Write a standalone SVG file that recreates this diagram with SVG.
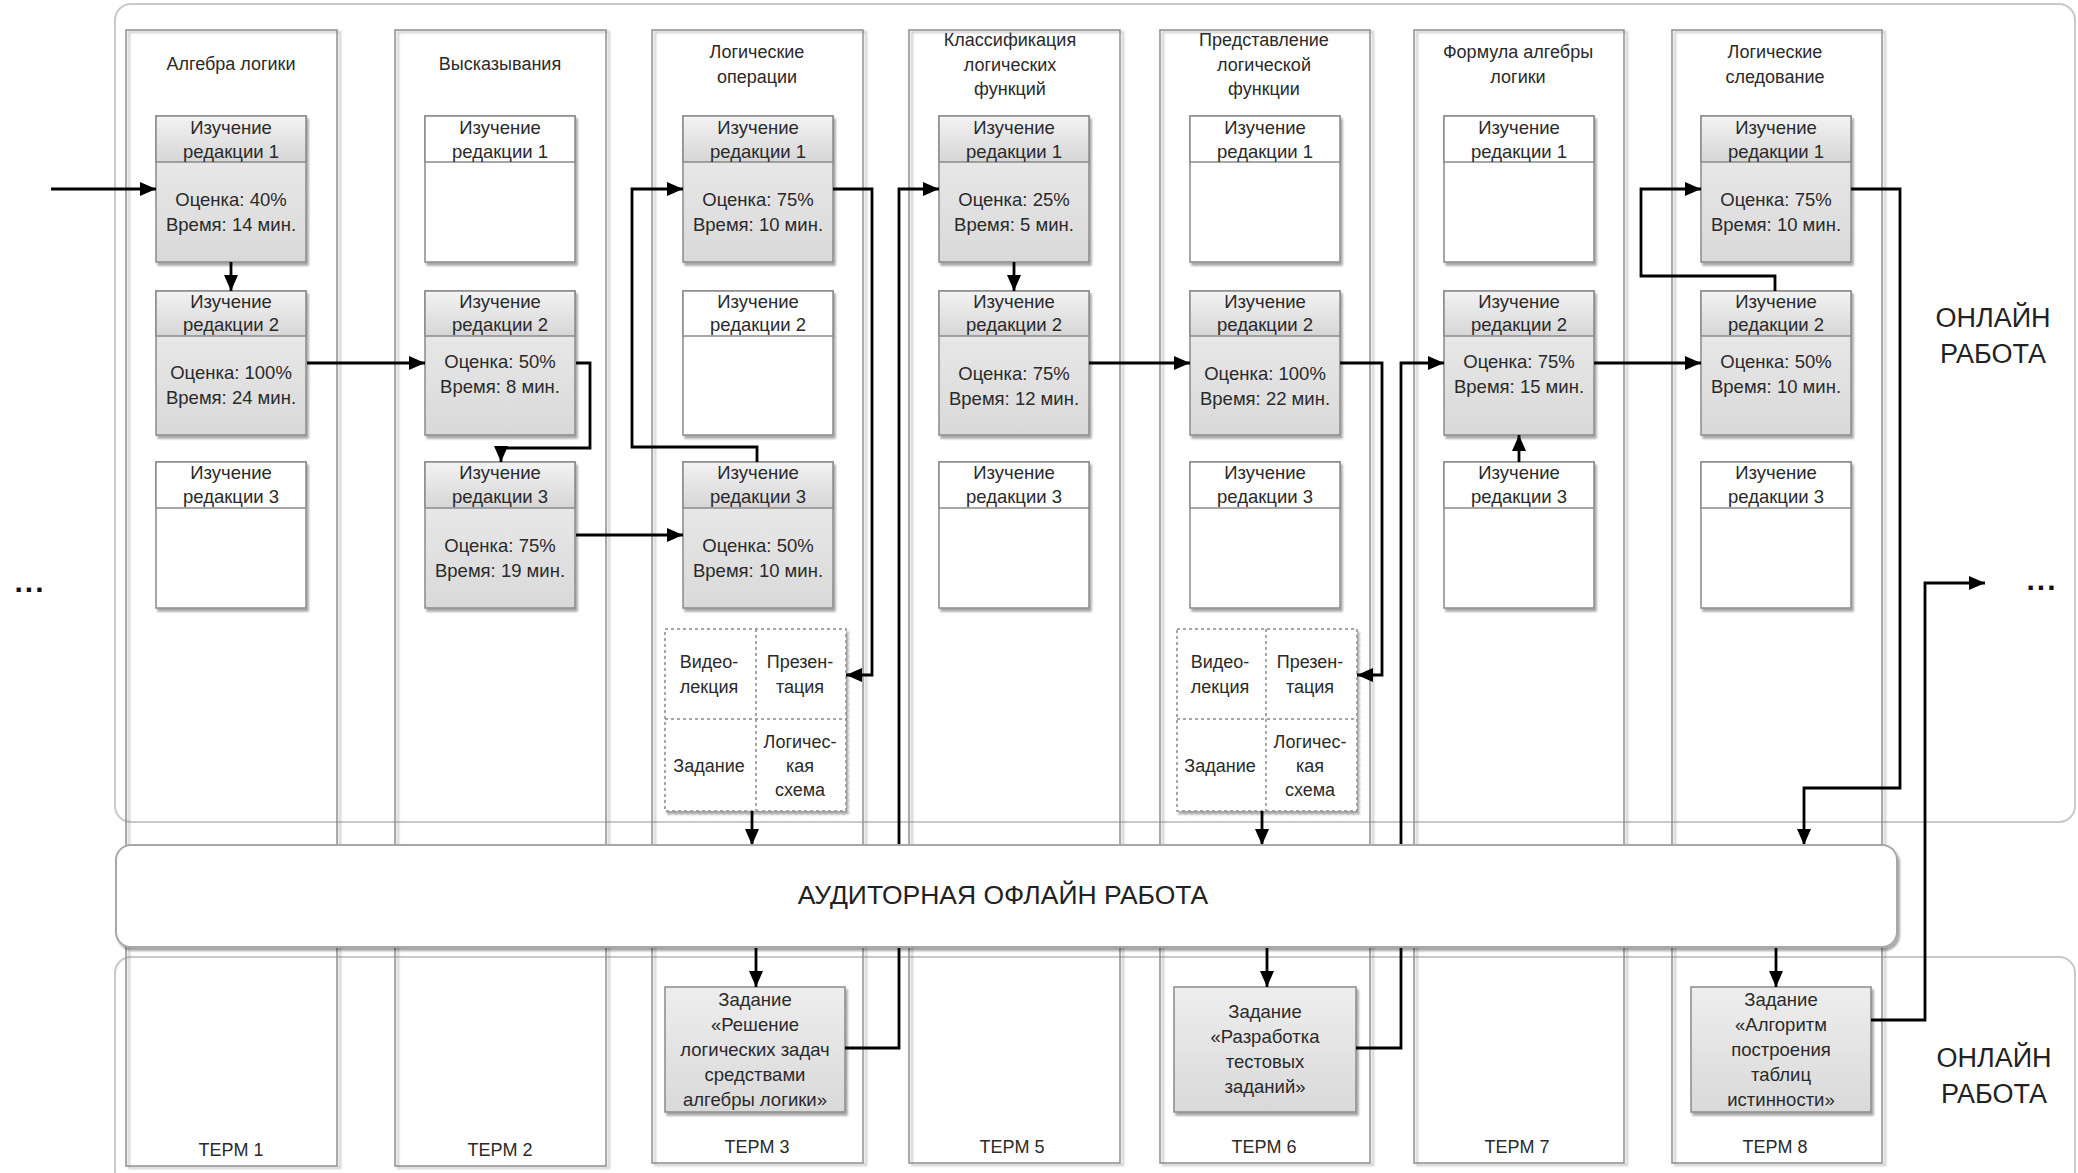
<svg xmlns="http://www.w3.org/2000/svg" width="2078" height="1173" viewBox="0 0 2078 1173">
<defs>
<linearGradient id="gHd" x1="0" y1="0" x2="0" y2="1"><stop offset="0" stop-color="#f3f3f3"/><stop offset="1" stop-color="#d6d6d6"/></linearGradient>
<linearGradient id="gBd" x1="0" y1="0" x2="0" y2="1"><stop offset="0" stop-color="#eeeeee"/><stop offset="1" stop-color="#d9d9d9"/></linearGradient>
<filter id="sh" x="-10%" y="-10%" width="125%" height="125%"><feDropShadow dx="2" dy="3" stdDeviation="1.2" flood-color="#000" flood-opacity="0.35"/></filter>
<filter id="shL" x="-5%" y="-5%" width="115%" height="115%"><feDropShadow dx="3" dy="2" stdDeviation="1" flood-color="#6a5a5a" flood-opacity="0.45"/></filter>
<marker id="ah" markerUnits="userSpaceOnUse" markerWidth="17" markerHeight="15" refX="16" refY="7" orient="auto"><path d="M0,0 L16,7 L0,14 Z" fill="#000"/></marker>
<style>
.area{fill:#fff;stroke:#c9c9c9;stroke-width:2}
.lane{fill:none;stroke:#8f8f8f;stroke-width:1.5;filter:url(#shL)}
.bx{stroke:#8a8a8a;stroke-width:1.5;filter:url(#sh)}
.act{fill:url(#gBd)}
.idle{fill:#fff}
.hd{fill:url(#gHd);stroke:#8a8a8a;stroke-width:1.5}
.hdw{fill:#fff;stroke:#8a8a8a;stroke-width:1.5}
.dash{fill:#fff;stroke:#8a8a8a;stroke-width:1.5;stroke-dasharray:3 3}
.band{fill:#fff;stroke:#a8a8a8;stroke-width:2;filter:url(#sh)}
.t{font-family:"Liberation Sans",Arial,sans-serif;font-size:18.5px;fill:#2a2a2a;text-anchor:middle}
.ti{font-family:"Liberation Sans",Arial,sans-serif;font-size:18px;fill:#2a2a2a;text-anchor:middle}
.big{font-family:"Liberation Sans",Arial,sans-serif;font-size:27px;fill:#222;text-anchor:middle}
.bnd{font-family:"Liberation Sans",Arial,sans-serif;font-size:26.5px;fill:#222;text-anchor:middle}
.dots{font-family:"Liberation Sans",Arial,sans-serif;font-size:30px;font-weight:bold;fill:#111;text-anchor:middle;letter-spacing:2px}
.c{fill:none;stroke:#000;stroke-width:2.8;marker-end:url(#ah)}
</style>
</defs>
<rect width="2078" height="1173" fill="#fff"/>

<g id="areas">
<rect class="area" x="115" y="4" width="1960" height="818" rx="16"/>
<rect class="area" x="115" y="957" width="1960" height="230" rx="16"/>
</g>

<g id="lanes">
<g id="lane1"><rect class="lane" x="126" y="30" width="211" height="1136"/>
<text class="ti" x="231" y="70">Алгебра логики</text><text class="ti" x="231" y="1156">ТЕРМ 1</text></g>
<g id="lane2"><rect class="lane" x="395" y="30" width="211" height="1136"/>
<text class="ti" x="500" y="70">Высказывания</text><text class="ti" x="500" y="1156">ТЕРМ 2</text></g>
<g id="lane3"><rect class="lane" x="652" y="30" width="211" height="1133"/>
<text class="ti" x="757" y="58">Логические</text><text class="ti" x="757" y="83">операции</text><text class="ti" x="757" y="1153">ТЕРМ 3</text></g>
<g id="lane4"><rect class="lane" x="909" y="30" width="211" height="1133"/>
<text class="ti" x="1010" y="46">Классификация</text><text class="ti" x="1010" y="71">логических</text><text class="ti" x="1010" y="95">функций</text><text class="ti" x="1012" y="1153">ТЕРМ 5</text></g>
<g id="lane5"><rect class="lane" x="1160" y="30" width="210" height="1133"/>
<text class="ti" x="1264" y="46">Представление</text><text class="ti" x="1264" y="71">логической</text><text class="ti" x="1264" y="95">функции</text><text class="ti" x="1264" y="1153">ТЕРМ 6</text></g>
<g id="lane6"><rect class="lane" x="1414" y="30" width="210" height="1133"/>
<text class="ti" x="1518" y="58">Формула алгебры</text><text class="ti" x="1518" y="83">логики</text><text class="ti" x="1517" y="1153">ТЕРМ 7</text></g>
<g id="lane7"><rect class="lane" x="1672" y="30" width="210" height="1133"/>
<text class="ti" x="1775" y="58">Логические</text><text class="ti" x="1775" y="83">следование</text><text class="ti" x="1775" y="1153">ТЕРМ 8</text></g>
</g>

<g id="c1r1"><rect class="bx act" x="156" y="116" width="150" height="146"/><rect class="hd" x="156" y="116" width="150" height="46"/>
<text class="t" x="231" y="134">Изучение</text><text class="t" x="231" y="158">редакции 1</text>
<text class="t" x="231" y="206">Оценка: 40%</text><text class="t" x="231" y="231">Время: 14 мин.</text></g>
<g id="c1r2"><rect class="bx act" x="156" y="291" width="150" height="144"/><rect class="hd" x="156" y="291" width="150" height="45"/>
<text class="t" x="231" y="308">Изучение</text><text class="t" x="231" y="331">редакции 2</text>
<text class="t" x="231" y="379">Оценка: 100%</text><text class="t" x="231" y="404">Время: 24 мин.</text></g>
<g id="c1r3"><rect class="bx idle" x="156" y="462" width="150" height="146"/><rect class="hdw" x="156" y="462" width="150" height="46"/>
<text class="t" x="231" y="479">Изучение</text><text class="t" x="231" y="503">редакции 3</text></g>

<g id="c2r1"><rect class="bx idle" x="425" y="116" width="150" height="146"/><rect class="hdw" x="425" y="116" width="150" height="46"/>
<text class="t" x="500" y="134">Изучение</text><text class="t" x="500" y="158">редакции 1</text></g>
<g id="c2r2"><rect class="bx act" x="425" y="291" width="150" height="144"/><rect class="hd" x="425" y="291" width="150" height="45"/>
<text class="t" x="500" y="308">Изучение</text><text class="t" x="500" y="331">редакции 2</text>
<text class="t" x="500" y="368">Оценка: 50%</text><text class="t" x="500" y="393">Время: 8 мин.</text></g>
<g id="c2r3"><rect class="bx act" x="425" y="462" width="150" height="146"/><rect class="hd" x="425" y="462" width="150" height="46"/>
<text class="t" x="500" y="479">Изучение</text><text class="t" x="500" y="503">редакции 3</text>
<text class="t" x="500" y="552">Оценка: 75%</text><text class="t" x="500" y="577">Время: 19 мин.</text></g>

<g id="c3r1"><rect class="bx act" x="683" y="116" width="150" height="146"/><rect class="hd" x="683" y="116" width="150" height="46"/>
<text class="t" x="758" y="134">Изучение</text><text class="t" x="758" y="158">редакции 1</text>
<text class="t" x="758" y="206">Оценка: 75%</text><text class="t" x="758" y="231">Время: 10 мин.</text></g>
<g id="c3r2"><rect class="bx idle" x="683" y="291" width="150" height="144"/><rect class="hdw" x="683" y="291" width="150" height="45"/>
<text class="t" x="758" y="308">Изучение</text><text class="t" x="758" y="331">редакции 2</text></g>
<g id="c3r3"><rect class="bx act" x="683" y="462" width="150" height="146"/><rect class="hd" x="683" y="462" width="150" height="46"/>
<text class="t" x="758" y="479">Изучение</text><text class="t" x="758" y="503">редакции 3</text>
<text class="t" x="758" y="552">Оценка: 50%</text><text class="t" x="758" y="577">Время: 10 мин.</text></g>
<g id="c3res"><rect class="dash" x="665" y="629" width="181" height="182" filter="url(#sh)"/>
<line class="dash" x1="665" y1="719" x2="846" y2="719"/><line class="dash" x1="756" y1="629" x2="756" y2="811"/>
<text class="ti" x="709" y="668">Видео-</text><text class="ti" x="709" y="693">лекция</text>
<text class="ti" x="800" y="668">Презен-</text><text class="ti" x="800" y="693">тация</text>
<text class="ti" x="709" y="772">Задание</text>
<text class="ti" x="800" y="748">Логичес-</text><text class="ti" x="800" y="772">кая</text><text class="ti" x="800" y="796">схема</text></g>

<g id="c4r1"><rect class="bx act" x="939" y="116" width="150" height="146"/><rect class="hd" x="939" y="116" width="150" height="46"/>
<text class="t" x="1014" y="134">Изучение</text><text class="t" x="1014" y="158">редакции 1</text>
<text class="t" x="1014" y="206">Оценка: 25%</text><text class="t" x="1014" y="231">Время: 5 мин.</text></g>
<g id="c4r2"><rect class="bx act" x="939" y="291" width="150" height="144"/><rect class="hd" x="939" y="291" width="150" height="45"/>
<text class="t" x="1014" y="308">Изучение</text><text class="t" x="1014" y="331">редакции 2</text>
<text class="t" x="1014" y="380">Оценка: 75%</text><text class="t" x="1014" y="405">Время: 12 мин.</text></g>
<g id="c4r3"><rect class="bx idle" x="939" y="462" width="150" height="146"/><rect class="hdw" x="939" y="462" width="150" height="46"/>
<text class="t" x="1014" y="479">Изучение</text><text class="t" x="1014" y="503">редакции 3</text></g>

<g id="c5r1"><rect class="bx idle" x="1190" y="116" width="150" height="146"/><rect class="hdw" x="1190" y="116" width="150" height="46"/>
<text class="t" x="1265" y="134">Изучение</text><text class="t" x="1265" y="158">редакции 1</text></g>
<g id="c5r2"><rect class="bx act" x="1190" y="291" width="150" height="144"/><rect class="hd" x="1190" y="291" width="150" height="45"/>
<text class="t" x="1265" y="308">Изучение</text><text class="t" x="1265" y="331">редакции 2</text>
<text class="t" x="1265" y="380">Оценка: 100%</text><text class="t" x="1265" y="405">Время: 22 мин.</text></g>
<g id="c5r3"><rect class="bx idle" x="1190" y="462" width="150" height="146"/><rect class="hdw" x="1190" y="462" width="150" height="46"/>
<text class="t" x="1265" y="479">Изучение</text><text class="t" x="1265" y="503">редакции 3</text></g>
<g id="c5res"><rect class="dash" x="1177" y="629" width="180" height="182" filter="url(#sh)"/>
<line class="dash" x1="1177" y1="719" x2="1357" y2="719"/><line class="dash" x1="1266" y1="629" x2="1266" y2="811"/>
<text class="ti" x="1220" y="668">Видео-</text><text class="ti" x="1220" y="693">лекция</text>
<text class="ti" x="1310" y="668">Презен-</text><text class="ti" x="1310" y="693">тация</text>
<text class="ti" x="1220" y="772">Задание</text>
<text class="ti" x="1310" y="748">Логичес-</text><text class="ti" x="1310" y="772">кая</text><text class="ti" x="1310" y="796">схема</text></g>

<g id="c6r1"><rect class="bx idle" x="1444" y="116" width="150" height="146"/><rect class="hdw" x="1444" y="116" width="150" height="46"/>
<text class="t" x="1519" y="134">Изучение</text><text class="t" x="1519" y="158">редакции 1</text></g>
<g id="c6r2"><rect class="bx act" x="1444" y="291" width="150" height="144"/><rect class="hd" x="1444" y="291" width="150" height="45"/>
<text class="t" x="1519" y="308">Изучение</text><text class="t" x="1519" y="331">редакции 2</text>
<text class="t" x="1519" y="368">Оценка: 75%</text><text class="t" x="1519" y="393">Время: 15 мин.</text></g>
<g id="c6r3"><rect class="bx idle" x="1444" y="462" width="150" height="146"/><rect class="hdw" x="1444" y="462" width="150" height="46"/>
<text class="t" x="1519" y="479">Изучение</text><text class="t" x="1519" y="503">редакции 3</text></g>

<g id="c7r1"><rect class="bx act" x="1701" y="116" width="150" height="146"/><rect class="hd" x="1701" y="116" width="150" height="46"/>
<text class="t" x="1776" y="134">Изучение</text><text class="t" x="1776" y="158">редакции 1</text>
<text class="t" x="1776" y="206">Оценка: 75%</text><text class="t" x="1776" y="231">Время: 10 мин.</text></g>
<g id="c7r2"><rect class="bx act" x="1701" y="291" width="150" height="144"/><rect class="hd" x="1701" y="291" width="150" height="45"/>
<text class="t" x="1776" y="308">Изучение</text><text class="t" x="1776" y="331">редакции 2</text>
<text class="t" x="1776" y="368">Оценка: 50%</text><text class="t" x="1776" y="393">Время: 10 мин.</text></g>
<g id="c7r3"><rect class="bx idle" x="1701" y="462" width="150" height="146"/><rect class="hdw" x="1701" y="462" width="150" height="46"/>
<text class="t" x="1776" y="479">Изучение</text><text class="t" x="1776" y="503">редакции 3</text></g>

<g id="task3"><rect class="bx act" x="665" y="987" width="180" height="125"/>
<text class="t" x="755" y="1006">Задание</text><text class="t" x="755" y="1031">«Решение</text><text class="t" x="755" y="1056">логических задач</text><text class="t" x="755" y="1081">средствами</text><text class="t" x="755" y="1106">алгебры логики»</text></g>
<g id="task6"><rect class="bx act" x="1174" y="987" width="182" height="125"/>
<text class="t" x="1265" y="1018">Задание</text><text class="t" x="1265" y="1043">«Разработка</text><text class="t" x="1265" y="1068">тестовых</text><text class="t" x="1265" y="1093">заданий»</text></g>
<g id="task8"><rect class="bx act" x="1691" y="987" width="180" height="125"/>
<text class="t" x="1781" y="1006">Задание</text><text class="t" x="1781" y="1031">«Алгоритм</text><text class="t" x="1781" y="1056">построения</text><text class="t" x="1781" y="1081">таблиц</text><text class="t" x="1781" y="1106">истинности»</text></g>

<g id="connectors">
<path class="c" d="M51,189 H156"/>
<path class="c" d="M231,262 V291"/>
<path class="c" d="M307,363 H425"/>
<path class="c" d="M576,363 H590 V448 H501 V462"/>
<path class="c" d="M576,535 H683"/>
<path class="c" d="M757,462 V447 H632 V189 H683"/>
<path class="c" d="M833,189 H872 V675 H846"/>
<path class="c" d="M752,811 V845"/>
<path class="c" d="M756,947 V987"/>
<path class="c" d="M845,1048 H899 V189 H939"/>
<path class="c" d="M1014,262 V291"/>
<path class="c" d="M1089,363 H1190"/>
<path class="c" d="M1340,363 H1382 V675 H1357"/>
<path class="c" d="M1262,811 V845"/>
<path class="c" d="M1267,947 V987"/>
<path class="c" d="M1356,1048 H1401 V363 H1444"/>
<path class="c" d="M1519,462 V435"/>
<path class="c" d="M1594,363 H1701"/>
<path class="c" d="M1775,291 V276 H1641 V189 H1701"/>
<path class="c" d="M1851,189 H1900 V788 H1804 V845"/>
<path class="c" d="M1776,947 V987"/>
<path class="c" d="M1871,1020 H1925 V583 H1985"/>
</g>

<g id="offline">
<rect class="band" x="116" y="845" width="1781" height="102" rx="15"/>
<text class="bnd" x="1003" y="904">АУДИТОРНАЯ ОФЛАЙН РАБОТА</text>
</g>

<g id="labels">
<text class="big" x="1993" y="327">ОНЛАЙН</text><text class="big" x="1993" y="363">РАБОТА</text>
<text class="big" x="1994" y="1067">ОНЛАЙН</text><text class="big" x="1994" y="1103">РАБОТА</text>
<text class="dots" x="30" y="592">...</text>
<text class="dots" x="2042" y="590">...</text>
</g>
</svg>
